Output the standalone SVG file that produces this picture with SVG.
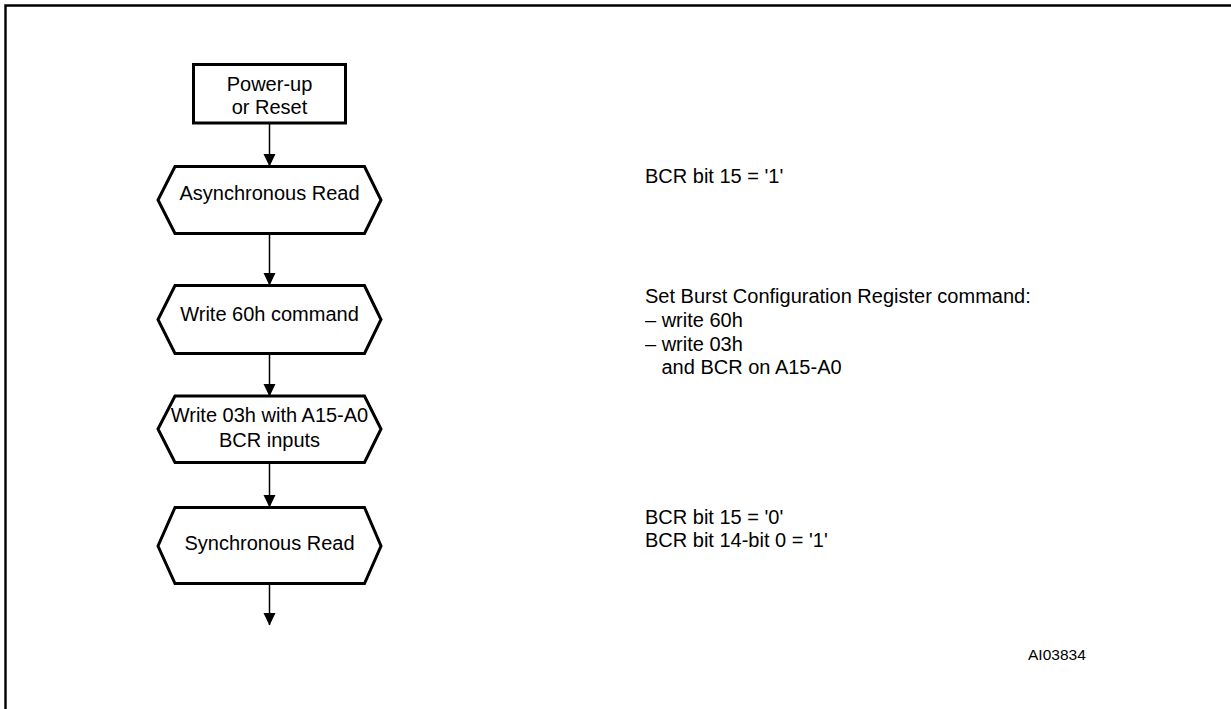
<svg xmlns="http://www.w3.org/2000/svg" width="1231" height="709" viewBox="0 0 1231 709">
<defs>
<style>
.t{font-family:"Liberation Sans",Arial,sans-serif;font-size:20px;fill:#000}
.c{text-anchor:middle}
.n{fill:#fff;stroke:#000;stroke-width:3;stroke-linejoin:miter}
.e{stroke:#000;stroke-width:1.5;fill:none}
</style>
<marker id="ah" markerWidth="13" markerHeight="13" refX="12" refY="6" orient="auto" markerUnits="userSpaceOnUse">
<path d="M0,0 L12.5,6 L0,12 Z" fill="#000"/>
</marker>
</defs>
<rect width="1231" height="709" fill="#fff"/>
<path d="M5.5,709 V5.5 H1231" fill="none" stroke="#000" stroke-width="2.4"/>
<g id="connectors">
<line class="e" x1="269.5" y1="124" x2="269.5" y2="166" marker-end="url(#ah)"/>
<line class="e" x1="269.5" y1="234" x2="269.5" y2="285" marker-end="url(#ah)"/>
<line class="e" x1="269.5" y1="354" x2="269.5" y2="396" marker-end="url(#ah)"/>
<line class="e" x1="269.5" y1="463" x2="269.5" y2="507" marker-end="url(#ah)"/>
<line class="e" x1="269.5" y1="584" x2="269.5" y2="625" marker-end="url(#ah)"/>
</g>
<g id="n-power">
<rect class="n" x="193.5" y="64.5" width="152" height="58.5"/>
<text class="t c" x="269.5" y="90.5">Power-up</text>
<text class="t c" x="269.5" y="113.5">or Reset</text>
</g>
<g id="n-async">
<polygon class="n" points="175,166.5 364.5,166.5 381,200 364.5,233.5 175,233.5 158,200"/>
<text class="t c" x="269.5" y="199.5">Asynchronous Read</text>
</g>
<g id="n-w60">
<polygon class="n" points="175,285.5 364.5,285.5 381,319.5 364.5,353.5 175,353.5 158,319.5"/>
<text class="t c" x="269.5" y="320.5">Write 60h command</text>
</g>
<g id="n-w03">
<polygon class="n" points="175,396 364.5,396 381,429 364.5,462.5 175,462.5 158,429"/>
<text class="t c" x="269.5" y="422">Write 03h with A15-A0</text>
<text class="t c" x="269.5" y="446.5">BCR inputs</text>
</g>
<g id="n-sync">
<polygon class="n" points="175,507.5 364.5,507.5 381,546 364.5,583.5 175,583.5 158,546"/>
<text class="t c" x="269.5" y="549.5">Synchronous Read</text>
</g>
<g id="notes">
<text class="t" x="645" y="183">BCR bit 15 = '1'</text>
<text class="t" x="645" y="303">Set Burst Configuration Register command:</text>
<text class="t" x="645" y="326.5">– write 60h</text>
<text class="t" x="645" y="350.5">– write 03h</text>
<text class="t" x="661.5" y="374">and BCR on A15-A0</text>
<text class="t" x="645" y="523.5">BCR bit 15 = '0'</text>
<text class="t" x="645" y="547">BCR bit 14-bit 0 = '1'</text>
<text class="t" x="1028" y="660" style="font-size:15.5px">AI03834</text>
</g>
</svg>
